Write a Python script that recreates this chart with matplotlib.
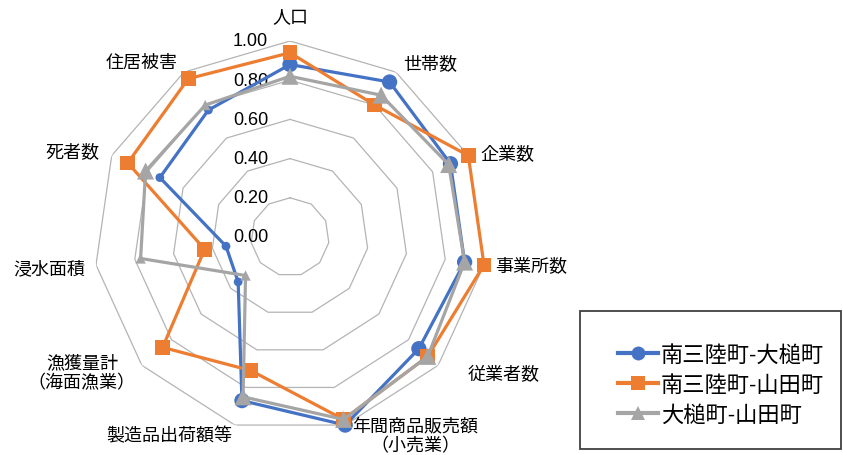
import numpy as np
import matplotlib
matplotlib.use("Agg")
import matplotlib.pyplot as plt
from matplotlib.patches import Rectangle

plt.rcParams['font.family'] = ['Liberation Sans', 'Noto Sans CJK JP', 'DejaVu Sans']

# data
categories = ["人口", "世帯数", "企業数", "事業所数", "従業者数",
              "年間商品販売額\n（小売業）", "製造品出荷額等",
              "漁獲量計\n（海面漁業）", "浸水面積", "死者数", "住居被害"]
series_names = ["南三陸町-大槌町", "南三陸町-山田町", "大槌町-山田町"]
minami_otsuchi = [0.88, 0.94, 0.90, 0.90, 0.87, 1.00, 0.87, 0.35, 0.33, 0.73, 0.77]
minami_yamada = [0.94, 0.80, 1.00, 1.00, 0.93, 0.97, 0.71, 0.86, 0.44, 0.91, 0.96]
otsuchi_yamada = [0.82, 0.86, 0.89, 0.90, 0.93, 0.97, 0.85, 0.30, 0.77, 0.81, 0.80]
r_ticks = [0.0, 0.2, 0.4, 0.6, 0.8, 1.0]

colors = ["#4472C4", "#ED7D31", "#A5A5A5"]
markers = ["o", "s", "^"]
# marker sizes (scatter area) per point, as drawn in the original
sizes = [[121] * 7 + [40] * 4,
         [110] * 11,
         [150] * 7 + [55, 55, 150, 55]]

n = len(categories)
theta = np.arange(n) * 2 * np.pi / n

fig = plt.figure(figsize=(8.43, 4.56), dpi=100)
ax = fig.add_axes([94 / 843, 22 / 456, 392 / 843, 392 / 456], projection='polar')
ax.set_theta_zero_location('N')
ax.set_theta_direction(-1)
ax.set_ylim(0, 1)
ax.grid(False)
ax.set_xticks([])
ax.set_yticks([])
ax.spines['polar'].set_visible(False)

# polygon gridlines
th_closed = np.append(theta, theta[0])
for r in r_ticks[1:]:
    ax.plot(th_closed, [r] * (n + 1), color="#b4b4b4", lw=0.9, zorder=1)

# radial tick labels
for r in r_ticks:
    ax.annotate(f"{r:.2f}", xy=(0, r), xytext=(-22, 0), textcoords='offset pixels',
                ha='right', va='center', fontsize=13, annotation_clip=False)

# category labels
offsets = [(0, 24, 'center'), (34, 8, 'center'), (12, 2, 'left'), (11, -1, 'left'),
           (29, -9, 'left'), (70, -11, 'center'), (-65, -11, 'center'),
           (-60, -7, 'center'), (-11, -4, 'right'), (-12, 4, 'right'), (-6, 10, 'right')]
for t, lab, (dx, dy, ha) in zip(theta, categories, offsets):
    ax.annotate(lab, xy=(t, 1.0), xytext=(dx, dy), textcoords='offset pixels',
                ha=ha, va='center', fontsize=13, multialignment='center',
                linespacing=1.2, annotation_clip=False)

# series
all_series = [minami_otsuchi, minami_yamada, otsuchi_yamada]
for i, vals in enumerate(all_series):
    v = np.append(vals, vals[0])
    ax.plot(th_closed, v, color=colors[i], lw=2.3, zorder=3 + i * 2)
    ax.scatter(theta, vals, s=sizes[i], marker=markers[i], color=colors[i],
               zorder=4 + i * 2, clip_on=False, linewidths=0)

# legend
handles = [plt.Line2D([], [], color=colors[i], lw=3, marker=markers[i],
                      markersize=10, markeredgewidth=0) for i in range(3)]
fig.patches.append(Rectangle((580 / 843, 6 / 456), 261 / 843, 138 / 456,
                             transform=fig.transFigure, fill=False,
                             edgecolor="#404040", lw=1.3))
fig.legend(handles, series_names, loc='center', bbox_to_anchor=(721 / 843, 70 / 456),
           frameon=False, fontsize=16, handlelength=1.8, handletextpad=0.1,
           labelspacing=0.4, borderpad=0)

fig.savefig("out.png", dpi=100)
